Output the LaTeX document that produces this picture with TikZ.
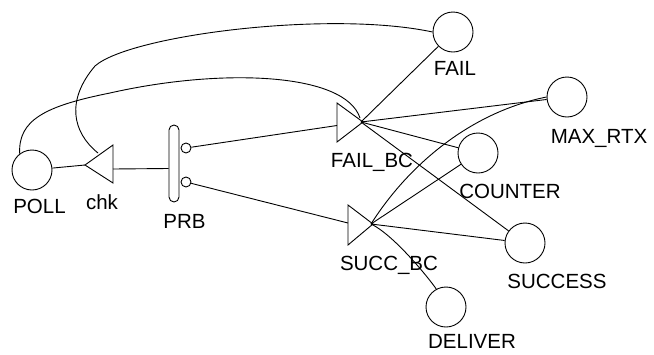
\documentclass[tikz,border=0pt]{standalone}
\usepackage{fontspec}
\setmainfont{Liberation Sans}
\usetikzlibrary{shapes.geometric}
\begin{document}
\begin{tikzpicture}[x=1pt,y=-1pt,line width=0.9pt,line join=miter,
  place/.style={circle,draw,minimum size=40pt,inner sep=0pt},
  port/.style={circle,draw,minimum size=10pt,inner sep=0pt},
  lbl/.style={anchor=base,inner sep=0pt,font=\fontsize{20.5}{24}\selectfont}]
\useasboundingbox (0,0) rectangle (654,354);
% places
\node[place] (POLL) at (32,170) {};
\node[place] (FAIL) at (453,32) {};
\node[place] (MAX) at (567,97) {};
\node[place] (COUNTER) at (478,153) {};
\node[place] (SUCCESS) at (525,243) {};
\node[place] (DELIVER) at (446,307) {};
% transitions (apex and base midpoint as named coordinates)
\coordinate (chk) at (85,165);
\coordinate (chkb) at (113,164);
\draw (chk) -- (113,145) -- (113,183) -- cycle;
\coordinate (FBC) at (363,122);
\coordinate (FBCb) at (337,122.5);
\draw (FBC) -- (337,103) -- (337,142) -- cycle;
\coordinate (SBC) at (373,224);
\coordinate (SBCb) at (348,225);
\draw (SBC) -- (348,205) -- (348,245) -- cycle;
\node[draw,rectangle,rounded corners=5pt,minimum width=10pt,minimum height=77pt,inner sep=0pt] (PRB) at (174,163.5) {};
\node[port] (o1) at (186,148) {};
\node[port] (o2) at (186,182) {};
\coordinate (chktop) at (98,153);
% labels
\node[lbl] (POLLl) at (39.5,213) {POLL};
\node[lbl] (chkl) at (102,209) {chk};
\node[lbl] (PRBl) at (184.5,228) {PRB};
\node[lbl] (FAILl) at (455,75) {FAIL};
\node[lbl] (MAXl) at (599,143) {MAX\_RTX};
\node[lbl] (COUNTERl) at (510,198) {COUNTER};
\node[lbl] (FBCl) at (372,167) {FAIL\_BC};
\node[lbl] (SBCl) at (389,270) {SUCC\_BC};
\node[lbl] (SUCCESSl) at (557,288) {SUCCESS};
\node[lbl] (DELIVERl) at (472,348.5) {DELIVER};
% connectors
\draw (POLL) -- (chk);
\draw ([yshift=-5pt]chkb) -- ([yshift=-5pt]PRB.west);
\draw (o1) -- ([yshift=-3pt]FBCb);
\draw (o2) -- ([yshift=2pt]SBCb);
\draw (POLL.127) .. controls (18,120) and (45,106) .. (110,93)
  .. controls (220,68) and (345,72) .. ([xshift=-3pt,yshift=4pt]FBC);
\draw (chktop) .. controls (72,132) and (66,100) .. (95,66)
  .. controls (130,35) and (330,10) .. (FAIL.west);
\draw ([xshift=-2pt]FBC) -- (FAIL);
\draw ([xshift=-2pt]FBC) -- (MAX);
\draw ([xshift=-2pt]FBC) -- (COUNTER);
\draw ([xshift=-2pt]FBC) -- (SUCCESS);
\draw ([xshift=-2pt]SBC) .. controls +(38,-60) and +(-75,15) .. (MAX.west);
\draw ([xshift=-2pt]SBC) -- (COUNTER);
\draw ([xshift=-2pt]SBC) -- (SUCCESS);
\draw ([xshift=-2pt]SBC) .. controls +(25,12) and +(-12,-22) .. (DELIVER);
\end{tikzpicture}
\end{document}
